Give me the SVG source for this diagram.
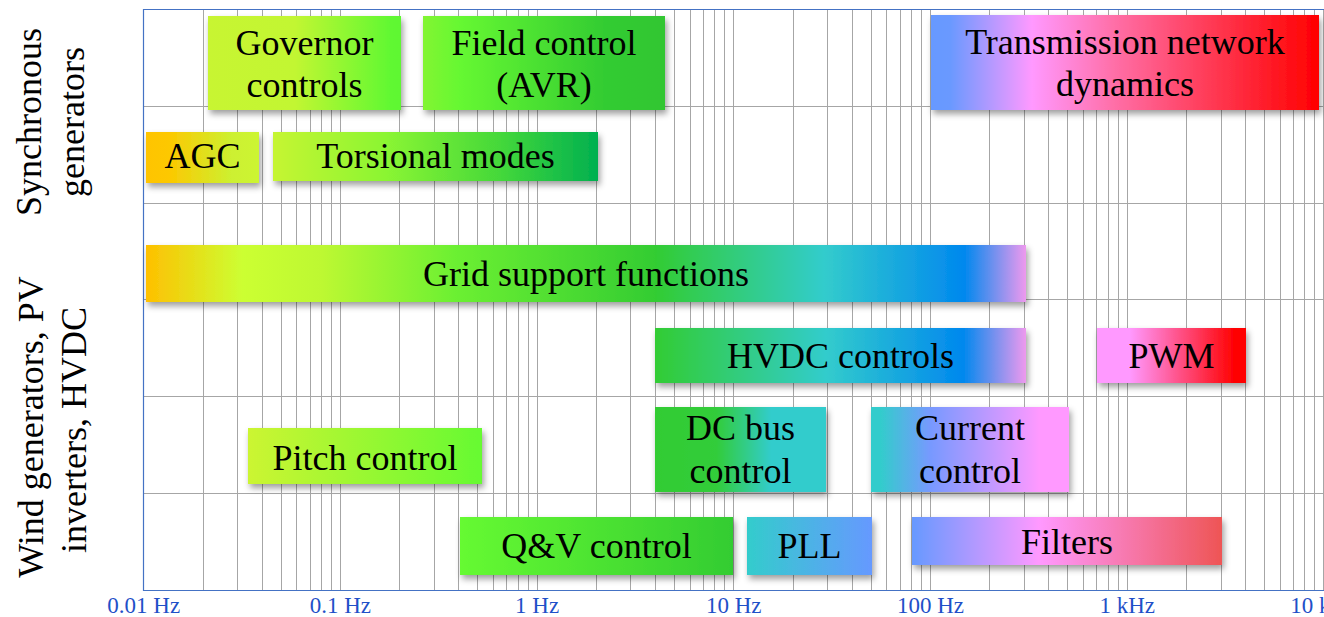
<svg xmlns="http://www.w3.org/2000/svg" width="1324" height="617" viewBox="0 0 1324 617">
  <style>
    .grid { stroke: #a6a6a6; stroke-width: 1; fill: none; }
    .frame { stroke: #4472c4; stroke-width: 1.2; fill: none; }
    .tick { font-family: "Liberation Serif", "Times New Roman", serif; font-size: 23px; fill: #1f50c8; text-anchor: middle; }
    .lbl { font-family: "Liberation Serif", "Times New Roman", serif; font-size: 36px; fill: #000; text-anchor: middle; }
    .side { font-family: "Liberation Serif", "Times New Roman", serif; font-size: 36px; fill: #000; text-anchor: middle; }
    .box { filter: url(#shadow); }
  </style>
  <defs>
    <filter id="shadow" x="-10%" y="-20%" width="125%" height="160%">
      <feDropShadow dx="2" dy="4" stdDeviation="3" flood-color="#000" flood-opacity="0.38"/>
    </filter>
    <linearGradient id="gGov" x1="0" y1="0" x2="1" y2="0">
      <stop offset="0" stop-color="#c8f532"/>
      <stop offset="0.45" stop-color="#c2f632"/>
      <stop offset="0.95" stop-color="#60f833"/>
      <stop offset="1" stop-color="#5ef733"/>
    </linearGradient>
    <linearGradient id="gAgc" x1="0" y1="0" x2="1" y2="0">
      <stop offset="0" stop-color="#ffc400"/>
      <stop offset="0.2" stop-color="#fdc800"/>
      <stop offset="0.75" stop-color="#cdf030"/>
      <stop offset="1" stop-color="#ccf533"/>
    </linearGradient>
    <linearGradient id="gTor" x1="0" y1="0" x2="1" y2="0">
      <stop offset="0" stop-color="#c6f532"/>
      <stop offset="0.35" stop-color="#8af533"/>
      <stop offset="0.7" stop-color="#44d83a"/>
      <stop offset="1" stop-color="#00b050"/>
    </linearGradient>
    <linearGradient id="gAvr" x1="0" y1="0" x2="1" y2="0">
      <stop offset="0" stop-color="#82f533"/>
      <stop offset="0.15" stop-color="#66f833"/>
      <stop offset="0.75" stop-color="#33cc33"/>
      <stop offset="1" stop-color="#33c633"/>
    </linearGradient>
    <linearGradient id="gTrans" x1="0" y1="0" x2="1" y2="0">
      <stop offset="0" stop-color="#6699ff"/>
      <stop offset="0.05" stop-color="#6a99ff"/>
      <stop offset="0.26" stop-color="#ff99ff"/>
      <stop offset="0.47" stop-color="#ff6fa8"/>
      <stop offset="0.72" stop-color="#ff3a55"/>
      <stop offset="1" stop-color="#ff0000"/>
    </linearGradient>
    <linearGradient id="gGrid" x1="0" y1="0" x2="1" y2="0">
      <stop offset="0" stop-color="#ffc000"/>
      <stop offset="0.11" stop-color="#ccff33"/>
      <stop offset="0.2" stop-color="#bdf833"/>
      <stop offset="0.35" stop-color="#6cf033"/>
      <stop offset="0.58" stop-color="#33cc33"/>
      <stop offset="0.77" stop-color="#33cccc"/>
      <stop offset="0.93" stop-color="#0088ee"/>
      <stop offset="1" stop-color="#ee99ee"/>
    </linearGradient>
    <linearGradient id="gHvdc" x1="0" y1="0" x2="1" y2="0">
      <stop offset="0" stop-color="#33cc33"/>
      <stop offset="0.46" stop-color="#33cccc"/>
      <stop offset="0.83" stop-color="#0088ee"/>
      <stop offset="1" stop-color="#ee99ee"/>
    </linearGradient>
    <linearGradient id="gPwm" x1="0" y1="0" x2="1" y2="0">
      <stop offset="0" stop-color="#ff99ff"/>
      <stop offset="0.22" stop-color="#ff99ff"/>
      <stop offset="0.93" stop-color="#ff0000"/>
      <stop offset="1" stop-color="#ff0000"/>
    </linearGradient>
    <linearGradient id="gDc" x1="0" y1="0" x2="1" y2="0">
      <stop offset="0" stop-color="#33cc33"/>
      <stop offset="0.36" stop-color="#33cc3a"/>
      <stop offset="0.68" stop-color="#33cccc"/>
      <stop offset="1" stop-color="#33cccc"/>
    </linearGradient>
    <linearGradient id="gCur" x1="0" y1="0" x2="1" y2="0">
      <stop offset="0" stop-color="#33cccc"/>
      <stop offset="0.05" stop-color="#33cccc"/>
      <stop offset="0.3" stop-color="#7799ff"/>
      <stop offset="0.65" stop-color="#cc99ff"/>
      <stop offset="0.85" stop-color="#ff99ff"/>
      <stop offset="1" stop-color="#ff99ff"/>
    </linearGradient>
    <linearGradient id="gPitch" x1="0" y1="0" x2="1" y2="0">
      <stop offset="0" stop-color="#ccf533"/>
      <stop offset="1" stop-color="#66fa33"/>
    </linearGradient>
    <linearGradient id="gQv" x1="0" y1="0" x2="1" y2="0">
      <stop offset="0" stop-color="#66fa33"/>
      <stop offset="1" stop-color="#33cc33"/>
    </linearGradient>
    <linearGradient id="gPll" x1="0" y1="0" x2="1" y2="0">
      <stop offset="0" stop-color="#33cccc"/>
      <stop offset="1" stop-color="#6699ff"/>
    </linearGradient>
    <linearGradient id="gFilt" x1="0" y1="0" x2="1" y2="0">
      <stop offset="0" stop-color="#6699ff"/>
      <stop offset="0.41" stop-color="#ff99ff"/>
      <stop offset="1" stop-color="#ee5555"/>
    </linearGradient>
  </defs>

  <rect width="1324" height="617" fill="#fff"/>

  <!-- log-frequency grid: 196.7 px per decade, 0.01 Hz at x = 143.7 -->
  <g id="grid">
    <path class="grid" d="M203.5 9.5V590.5M237.5 9.5V590.5M262.5 9.5V590.5M281.5 9.5V590.5M296.5 9.5V590.5M310.5 9.5V590.5M321.5 9.5V590.5M331.5 9.5V590.5
      M340.5 9.5V590.5M399.5 9.5V590.5M434.5 9.5V590.5M458.5 9.5V590.5M477.5 9.5V590.5M493.5 9.5V590.5M506.5 9.5V590.5M518.5 9.5V590.5M528.5 9.5V590.5
      M537.5 9.5V590.5M596.5 9.5V590.5M630.5 9.5V590.5M655.5 9.5V590.5M674.5 9.5V590.5M690.5 9.5V590.5M703.5 9.5V590.5M714.5 9.5V590.5M724.5 9.5V590.5
      M733.5 9.5V590.5M793.5 9.5V590.5M827.5 9.5V590.5M852.5 9.5V590.5M871.5 9.5V590.5M886.5 9.5V590.5M900.5 9.5V590.5M911.5 9.5V590.5M921.5 9.5V590.5
      M930.5 9.5V590.5M989.5 9.5V590.5M1024.5 9.5V590.5M1048.5 9.5V590.5M1067.5 9.5V590.5M1083.5 9.5V590.5M1096.5 9.5V590.5M1108.5 9.5V590.5M1118.5 9.5V590.5
      M1127.5 9.5V590.5M1186.5 9.5V590.5M1221.5 9.5V590.5M1245.5 9.5V590.5M1264.5 9.5V590.5M1280.5 9.5V590.5M1293.5 9.5V590.5M1304.5 9.5V590.5M1314.5 9.5V590.5
      M1323.5 9.5V590.5"/>
    <path class="grid" d="M143.5 106.5H1324M143.5 203.5H1324M143.5 299.5H1324M143.5 396.5H1324M143.5 493.5H1324"/>
  </g>

  <!-- plot frame -->
  <g id="axes">
    <path class="frame" d="M1324 9.5H143.5V590.5H1324"/>
    <text class="tick" x="143.7" y="613">0.01 Hz</text>
    <text class="tick" x="340.4" y="613">0.1 Hz</text>
    <text class="tick" x="537.1" y="613">1 Hz</text>
    <text class="tick" x="733.8" y="613">10 Hz</text>
    <text class="tick" x="930.5" y="613">100 Hz</text>
    <text class="tick" x="1127.2" y="613">1 kHz</text>
    <text class="tick" x="1323.9" y="613">10 kHz</text>
  </g>

  <!-- row captions -->
  <g id="row-synchronous">
    <text class="side" transform="translate(41 122) rotate(-90)">Synchronous</text>
    <text class="side" transform="translate(84 122) rotate(-90)">generators</text>
  </g>
  <g id="row-converters">
    <text class="side" transform="translate(43 427) rotate(-90)">Wind generators, PV</text>
    <text class="side" transform="translate(86 430) rotate(-90)">inverters, HVDC</text>
  </g>

  <!-- control bands -->
  <g id="governor-controls">
    <rect class="box" x="208" y="16" width="193" height="94" fill="url(#gGov)"/>
    <text class="lbl" x="304.5" y="55">Governor</text>
    <text class="lbl" x="304.5" y="97">controls</text>
  </g>
  <g id="field-control">
    <rect class="box" x="423" y="16" width="242" height="94" fill="url(#gAvr)"/>
    <text class="lbl" x="544" y="55">Field control</text>
    <text class="lbl" x="544" y="97">(AVR)</text>
  </g>
  <g id="transmission-network">
    <rect class="box" x="931" y="15" width="388" height="95" fill="url(#gTrans)"/>
    <text class="lbl" x="1125" y="54">Transmission network</text>
    <text class="lbl" x="1125" y="96">dynamics</text>
  </g>
  <g id="agc">
    <rect class="box" x="146" y="132" width="113" height="51" fill="url(#gAgc)"/>
    <text class="lbl" x="202.5" y="168">AGC</text>
  </g>
  <g id="torsional-modes">
    <rect class="box" x="273" y="132" width="325" height="49" fill="url(#gTor)"/>
    <text class="lbl" x="435.5" y="168">Torsional modes</text>
  </g>
  <g id="grid-support">
    <rect class="box" x="146" y="245" width="880" height="57" fill="url(#gGrid)"/>
    <text class="lbl" x="586" y="286">Grid support functions</text>
  </g>
  <g id="hvdc-controls">
    <rect class="box" x="655" y="328" width="371" height="55" fill="url(#gHvdc)"/>
    <text class="lbl" x="840.5" y="368">HVDC controls</text>
  </g>
  <g id="pwm">
    <rect class="box" x="1097" y="328" width="149" height="55" fill="url(#gPwm)"/>
    <text class="lbl" x="1171.5" y="368">PWM</text>
  </g>
  <g id="dc-bus-control">
    <rect class="box" x="655" y="407" width="171" height="85" fill="url(#gDc)"/>
    <text class="lbl" x="740.5" y="440">DC bus</text>
    <text class="lbl" x="740.5" y="483">control</text>
  </g>
  <g id="current-control">
    <rect class="box" x="871" y="407" width="198" height="85" fill="url(#gCur)"/>
    <text class="lbl" x="970" y="440">Current</text>
    <text class="lbl" x="970" y="483">control</text>
  </g>
  <g id="pitch-control">
    <rect class="box" x="248" y="428" width="234" height="56" fill="url(#gPitch)"/>
    <text class="lbl" x="365" y="470">Pitch control</text>
  </g>
  <g id="qv-control">
    <rect class="box" x="460" y="517" width="273" height="58" fill="url(#gQv)"/>
    <text class="lbl" x="596.5" y="558">Q&amp;V control</text>
  </g>
  <g id="pll">
    <rect class="box" x="747" y="517" width="125" height="58" fill="url(#gPll)"/>
    <text class="lbl" x="809.5" y="558">PLL</text>
  </g>
  <g id="filters">
    <rect class="box" x="912" y="517" width="310" height="48" fill="url(#gFilt)"/>
    <text class="lbl" x="1067" y="554">Filters</text>
  </g>

  <g id="connectors"/>
</svg>
